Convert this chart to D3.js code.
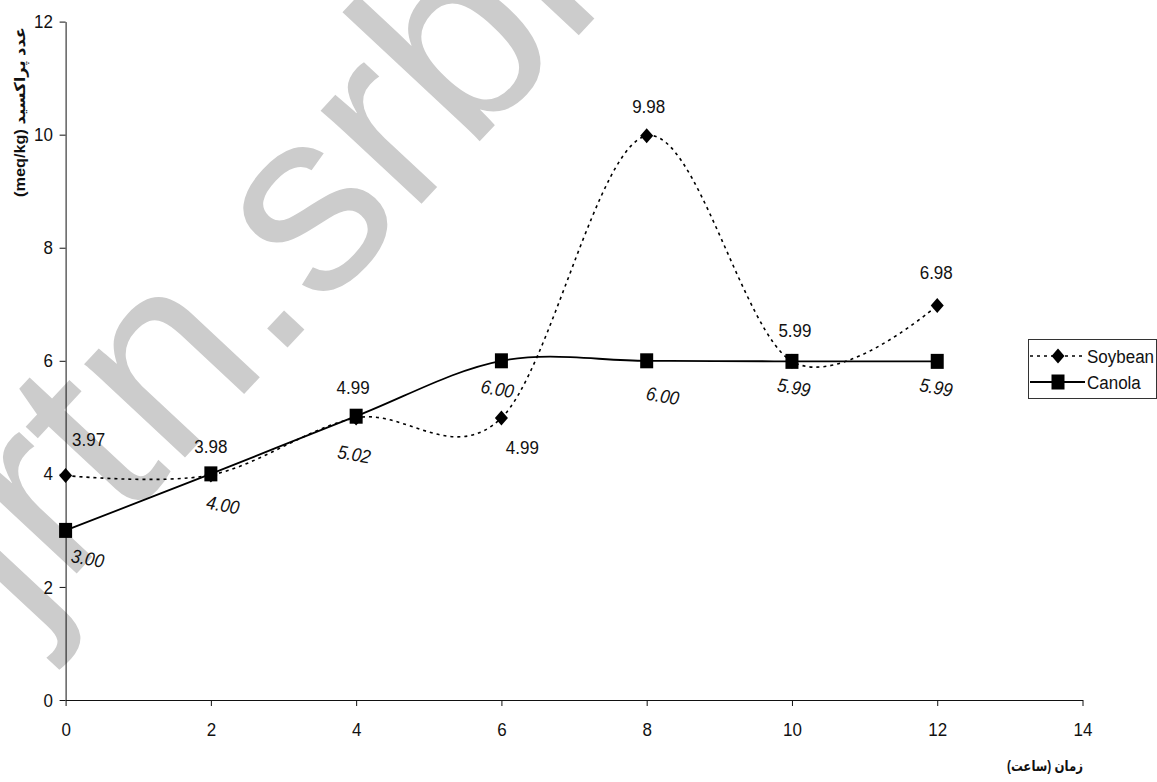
<!DOCTYPE html>
<html><head><meta charset="utf-8">
<script src="https://cdn.jsdelivr.net/npm/d3@7"></script>
<style>body{margin:0;background:#fff}svg{display:block}</style>
</head><body><svg id="c" width="1157" height="782"></svg>
<script>
// ---- data ----
const hours = [0, 2, 4, 6, 8, 10, 12];
const soybean = [3.97, 3.98, 4.99, 4.99, 9.98, 5.99, 6.98];
const canola = [3.00, 4.00, 5.02, 6.00, 6.00, 5.99, 5.99];
const xTicks = [0, 2, 4, 6, 8, 10, 12, 14];
const yTicks = [0, 2, 4, 6, 8, 10, 12];
const seriesNames = ["Soybean", "Canola"];
const yTitle = "(meq/kg) عدد پراکسید";
const xTitle = "زمان (ساعت)";
const watermark = "jrtn.srbiau.ac.ir";

// ---- layout (label placement offsets, px from point) ----
const soyLabelOffset = [[23,-36],[0,-29],[-3,-31],[21,29],[2,-29],[3,-31],[-1,-33]];
const canLabelOffset = [[22,28],[12,31],[-2,38],[-4,28],[16,35],[2,26],[-1,26]];

const FONT = "'Liberation Sans', Arial, 'DejaVu Sans', sans-serif";
const STRETCH = 1.12;
const svg = d3.select("#c");
const x = d3.scaleLinear().domain([0, 14]).range([65.6, 1082.5]);
const y = d3.scaleLinear().domain([0, 12]).range([700, 21.6]);

function stretch(sel) {
  sel.each(function () {
    const t = d3.select(this);
    const tx = +t.attr("x") || 0, ty = +t.attr("y") || 0;
    const prev = t.attr("transform") || "";
    t.attr("transform", `${prev} translate(${tx},${ty}) scale(1,${STRETCH}) translate(${-tx},${-ty})`);
  });
}

// watermark
svg.append("text")
  .attr("transform", "translate(25,629) rotate(-47)")
  .attr("font-family", FONT).attr("font-size", 260)
  .attr("fill", "#cccccc").text(watermark);

// axes
const gx = svg.append("g").attr("transform", "translate(0,700)")
  .call(d3.axisBottom(x).tickValues(xTicks).tickSize(6).tickSizeOuter(0).tickPadding(16));
const gy = svg.append("g").attr("transform", "translate(65.6,0)")
  .call(d3.axisLeft(y).tickValues(yTicks).tickSize(6).tickSizeOuter(0).tickPadding(6.6));
[gx, gy].forEach(g => {
  g.selectAll("text").attr("font-family", FONT).attr("font-size", 17).attr("fill", "#111").call(stretch);
  g.selectAll("path,line").attr("stroke", "#111").attr("stroke-width", 1);
});

// axis titles
svg.append("text")
  .attr("transform", "translate(25,112) rotate(-90)")
  .attr("text-anchor", "middle")
  .attr("textLength", 170).attr("lengthAdjust", "spacingAndGlyphs")
  .attr("font-family", FONT).attr("font-size", 15).attr("font-weight", "bold")
  .attr("fill", "#111").text(yTitle);
svg.append("text")
  .attr("x", 1083).attr("y", 771)
  .attr("direction", "rtl").attr("text-anchor", "start")
  .attr("textLength", 76).attr("lengthAdjust", "spacingAndGlyphs")
  .attr("font-family", FONT).attr("font-size", 14).attr("font-weight", "bold")
  .attr("fill", "#111").text(xTitle);

// lines
const line = vals => d3.line()
  .x((d, i) => x(hours[i])).y(d => y(d))
  .curve(d3.curveCatmullRom.alpha(0))(vals);

svg.append("path").attr("d", line(soybean))
  .attr("fill", "none").attr("stroke", "#000").attr("stroke-width", 1.6)
  .attr("stroke-dasharray", "3,4");
svg.append("path").attr("d", line(canola))
  .attr("fill", "none").attr("stroke", "#000").attr("stroke-width", 1.8);

const diamond = (cx, cy) => `M${cx},${cy-7.5}L${cx+6.5},${cy}L${cx},${cy+7.5}L${cx-6.5},${cy}Z`;

svg.append("g").selectAll("path").data(soybean).join("path")
  .attr("d", (d, i) => diamond(x(hours[i]), y(d))).attr("fill", "#000");
svg.append("g").selectAll("rect").data(canola).join("rect")
  .attr("x", (d, i) => x(hours[i]) - 6.5).attr("y", d => y(d) - 7.5)
  .attr("width", 13).attr("height", 15).attr("fill", "#000");

// data labels
svg.append("g").selectAll("text").data(soybean).join("text")
  .attr("x", (d, i) => x(hours[i]) + soyLabelOffset[i][0])
  .attr("y", (d, i) => y(d) + soyLabelOffset[i][1])
  .attr("dy", "0.35em").attr("text-anchor", "middle")
  .attr("font-family", FONT).attr("font-size", 17).attr("fill", "#111")
  .text(d => d.toFixed(2)).call(stretch);
svg.append("g").selectAll("text").data(canola).join("text")
  .attr("transform", (d, i) => `translate(${x(hours[i]) + canLabelOffset[i][0]},${y(d) + canLabelOffset[i][1]}) rotate(10) scale(1,${STRETCH})`)
  .attr("dy", "0.35em").attr("text-anchor", "middle")
  .attr("font-family", FONT).attr("font-size", 17).attr("font-style", "italic").attr("fill", "#111")
  .text(d => d.toFixed(2));

// legend
const lg = svg.append("g");
lg.append("rect").attr("x", 1028.5).attr("y", 339.5).attr("width", 128).attr("height", 59)
  .attr("fill", "#fff").attr("stroke", "#333").attr("stroke-width", 1);
const rows = [356, 382];
seriesNames.forEach((name, i) => {
  const ry = rows[i];
  lg.append("line").attr("x1", 1030).attr("x2", 1085).attr("y1", ry).attr("y2", ry)
    .attr("stroke", "#000").attr("stroke-width", i === 0 ? 1.6 : 1.8)
    .attr("stroke-dasharray", i === 0 ? "3,4" : null);
  if (i === 0) lg.append("path").attr("d", diamond(1058, ry)).attr("fill", "#000");
  else lg.append("rect").attr("x", 1051.5).attr("y", ry - 7.5).attr("width", 13).attr("height", 15).attr("fill", "#000");
  lg.append("text").attr("x", 1087).attr("y", ry).attr("dy", "0.35em")
    .attr("font-family", FONT).attr("font-size", 17).attr("fill", "#111").text(name).call(stretch);
});
</script></body></html>
